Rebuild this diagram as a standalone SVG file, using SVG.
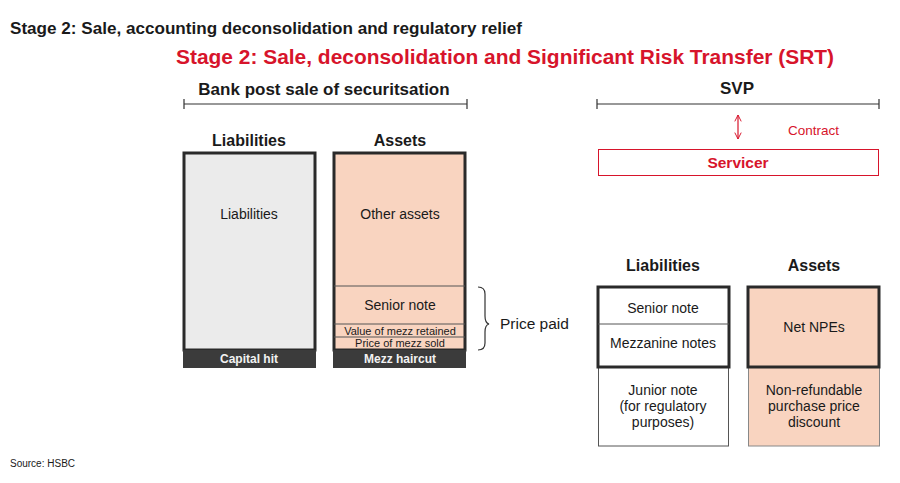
<svg xmlns="http://www.w3.org/2000/svg" width="900" height="483" viewBox="0 0 900 483">
<style>
text{font-family:"Liberation Sans",Arial,sans-serif;fill:#1a1a1a}
.b{font-weight:bold}
.h{font-size:16px;font-weight:bold;text-anchor:middle}
.c{text-anchor:middle}
.m{font-size:14px}
.s{font-size:11px}
.red{fill:#d7142b}
.thick{stroke:#2a2a2a;stroke-width:3}
.thin{stroke:#555;stroke-width:1}
.salmon{fill:#f9d4c0}
.bar{fill:#3b3b3b}
.wt{fill:#f2f2f2;font-size:12px;font-weight:bold;text-anchor:middle}
.ln{stroke:#333;stroke-width:1.2;fill:none}
</style>
<defs>
<marker id="ah" viewBox="0 0 10 10" refX="9" refY="5" markerWidth="8" markerHeight="8" orient="auto-start-reverse" markerUnits="userSpaceOnUse">
<path d="M1,1 L9,5 L1,9" fill="none" stroke="#d7142b" stroke-width="1.2"/>
</marker>
</defs>
<rect width="900" height="483" fill="#fff"/>
<text x="10" y="34" class="b" font-size="16" textLength="512" lengthAdjust="spacingAndGlyphs">Stage 2: Sale, accounting deconsolidation and regulatory relief</text>
<text x="176" y="64" class="b red" font-size="20" textLength="658" lengthAdjust="spacingAndGlyphs">Stage 2: Sale, deconsolidation and Significant Risk Transfer (SRT)</text>

<g id="bank-header">
<text x="324" y="95" class="h" style="font-size:17px">Bank post sale of securitsation</text>
</g>
<g id="svp-header">
<text x="737" y="94" class="h" style="font-size:17px">SVP</text>
</g>

<g id="bank-liabilities">
<text x="249" y="146" class="h">Liabilities</text>
<rect x="184" y="153" width="131" height="197" fill="#ebebeb" class="thick"/>
<text x="249" y="219" class="c m">Liabilities</text>
<rect x="183" y="350" width="133" height="18" class="bar"/>
<text x="249" y="363" class="wt">Capital hit</text>
</g>

<g id="bank-assets">
<text x="400" y="146" class="h">Assets</text>
<rect x="334" y="153" width="131" height="197" class="salmon thick"/>
<line x1="334" y1="286" x2="465" y2="286" class="thin"/>
<line x1="334" y1="324" x2="465" y2="324" class="thin"/>
<line x1="334" y1="337" x2="465" y2="337" class="thin"/>
<text x="400" y="310" class="c m">Senior note</text>
<text x="400" y="219" class="c m">Other assets</text>
<text x="400" y="334.5" class="c s">Value of mezz retained</text>
<text x="400" y="347" class="c s">Price of mezz sold</text>
<rect x="333" y="350" width="133" height="18" class="bar"/>
<text x="400" y="363" class="wt">Mezz haircut</text>
</g>

<g id="price-paid">
<text x="500" y="329" font-size="15.5">Price paid</text>
</g>

<g id="servicer">
<rect x="598.5" y="149.5" width="280" height="26" fill="none" stroke="#d7142b" stroke-width="1"/>
<text x="738" y="168" class="b red c" font-size="15.5">Servicer</text>
</g>

<g id="svp-liabilities">
<text x="663" y="271" class="h">Liabilities</text>
<rect x="598.5" y="367" width="130" height="79" fill="#fff" class="thin"/>
<rect x="598" y="287" width="131" height="80" fill="#fff" class="thick"/>
<line x1="598" y1="324" x2="729" y2="324" class="thin"/>
<text x="663" y="313" class="c m">Senior note</text>
<text x="663" y="348" class="c m">Mezzanine notes</text>
<text x="663" y="395" class="c m">Junior note</text>
<text x="663" y="411" class="c m">(for regulatory</text>
<text x="663" y="427" class="c m">purposes)</text>
</g>

<g id="svp-assets">
<text x="814" y="271" class="h">Assets</text>
<rect x="748.5" y="367" width="131" height="79" class="salmon" stroke="#888" stroke-width="1"/>
<rect x="748" y="287" width="131" height="80" class="salmon thick"/>
<text x="814" y="332" class="c m">Net NPEs</text>
<text x="814" y="395" class="c m">Non-refundable</text>
<text x="814" y="411" class="c m">purchase price</text>
<text x="814" y="427" class="c m">discount</text>
</g>

<g id="connectors">
<path d="M184,104 H467 M184,99 V109 M467,99 V109" class="ln"/>
<path d="M597,104 H879 M597,99 V109 M879,99 V109" class="ln"/>
<path d="M478,287 Q485,287 485,294 V316 Q485,323 489,324 Q485,325 485,332 V343 Q485,350 478,350" class="ln"/>
<line x1="738" y1="115" x2="738" y2="139" stroke="#d7142b" stroke-width="1.2" marker-start="url(#ah)" marker-end="url(#ah)"/>
<text x="788" y="135" class="red" font-size="13.5">Contract</text>
</g>

<text x="10" y="467" font-size="10">Source: HSBC</text>
</svg>
